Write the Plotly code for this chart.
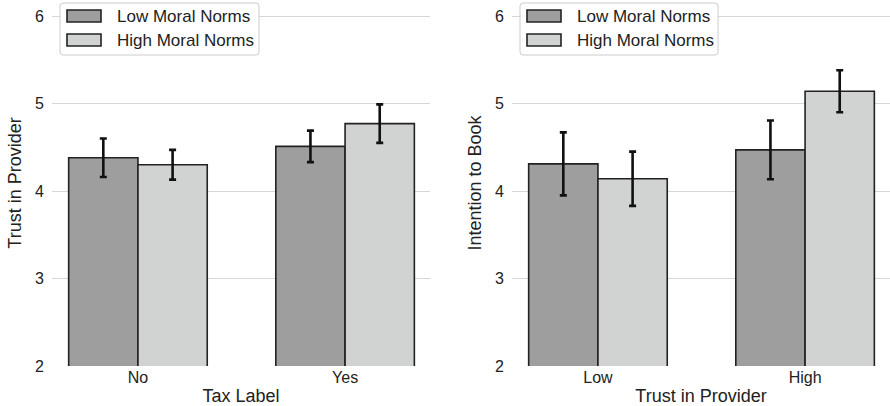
import plotly.graph_objects as go

# ---- data ----
groups = ["Low Moral Norms", "High Moral Norms"]

left_categories = ["No", "Yes"]
left_low = [4.38, 4.51]
left_low_err = [0.22, 0.18]
left_high = [4.30, 4.77]
left_high_err = [0.17, 0.22]

right_categories = ["Low", "High"]
right_low = [4.31, 4.47]
right_low_err = [0.36, 0.335]
right_high = [4.14, 5.14]
right_high_err = [0.31, 0.24]

y_ticks = [2, 3, 4, 5, 6]

# ---- style ----
FONT = "Liberation Sans"
colors = ["#9d9e9d", "#d1d3d2"]
edge = "#222222"
W, H = 890, 406
ML, MR, MT, MB = 52, 0, 0, 40
PW = W - ML - MR
PH = H - MT - MB

fig = go.Figure()

def add_panel(cats, vals_list, errs_list, xaxis, yaxis):
    for name, vals, errs, col in zip(groups, vals_list, errs_list, colors):
        fig.add_trace(go.Bar(
            x=cats, y=vals, name=name, showlegend=False,
            marker=dict(color=col, line=dict(color=edge, width=1.6)),
            error_y=dict(type="data", array=errs, visible=True,
                         color="#111111", thickness=2.6, width=3.5),
            xaxis=xaxis, yaxis=yaxis,
        ))

add_panel(left_categories, [left_low, left_high], [left_low_err, left_high_err], "x", "y")
add_panel(right_categories, [right_low, right_high], [right_low_err, right_high_err], "x2", "y2")

def px_x(p):
    return (p - ML) / PW

def px_y(p):
    return 1 - (p - MT) / PH

xcommon = dict(
    type="category", range=[-0.415, 1.41], showgrid=False, showline=False,
    zeroline=False, ticks="", tickfont=dict(size=16, color="#222222"),
)
xtitle_font = dict(size=18, color="#222222")
ycommon = dict(
    range=[2, 2 + PH / 87.5], tickvals=y_ticks, showgrid=True,
    gridcolor="#d6d6d6", gridwidth=1.2, showline=False, zeroline=False,
    ticks="outside", ticklen=4, tickcolor="rgba(0,0,0,0)",
    tickfont=dict(size=16, color="#222222"),
)

# ---- legends drawn as shapes + text (wide swatches like the reference) ----
shapes = []
annotations = []

def add_legend(box_left, box_right, sw_left, sw_right, text_left):
    top, bottom = 3, 55
    r = 3
    fx = px_x
    fy = px_y
    path = (f"M {fx(box_left + r)},{fy(top)} L {fx(box_right - r)},{fy(top)} "
            f"Q {fx(box_right)},{fy(top)} {fx(box_right)},{fy(top + r)} "
            f"L {fx(box_right)},{fy(bottom - r)} "
            f"Q {fx(box_right)},{fy(bottom)} {fx(box_right - r)},{fy(bottom)} "
            f"L {fx(box_left + r)},{fy(bottom)} "
            f"Q {fx(box_left)},{fy(bottom)} {fx(box_left)},{fy(bottom - r)} "
            f"L {fx(box_left)},{fy(top + r)} "
            f"Q {fx(box_left)},{fy(top)} {fx(box_left + r)},{fy(top)} Z")
    shapes.append(dict(type="path", xref="paper", yref="paper", path=path,
                       fillcolor="white", line=dict(color="#cccccc", width=1),
                       layer="above"))
    for i, (name, col) in enumerate(zip(groups, colors)):
        cy = 16 + 24 * i
        shapes.append(dict(type="rect", xref="paper", yref="paper",
                           x0=px_x(sw_left), x1=px_x(sw_right),
                           y0=px_y(cy - 6), y1=px_y(cy + 6),
                           fillcolor=col, line=dict(color=edge, width=1.6),
                           layer="above"))
        annotations.append(dict(xref="paper", yref="paper", x=px_x(text_left),
                                y=px_y(cy), xanchor="left", yanchor="middle",
                                text=name, showarrow=False,
                                font=dict(family=FONT, size=17, color="#222222")))

add_legend(60, 259, 67, 101, 115)
add_legend(520, 718, 527, 561, 575)

fig.update_layout(
    width=W, height=H,
    margin=dict(l=ML, r=MR, t=MT, b=MB),
    paper_bgcolor="white", plot_bgcolor="white",
    font=dict(family=FONT, color="#222222"),
    barmode="group", bargap=0.331, bargroupgap=0,
    showlegend=False,
    xaxis=dict(domain=[0, px_x(430)], anchor="y",
               title=dict(text="Tax Label", font=xtitle_font, standoff=5), **xcommon),
    yaxis=dict(domain=[0, 1], anchor="x",
               title=dict(text="Trust in Provider", font=xtitle_font, standoff=8), **ycommon),
    xaxis2=dict(domain=[px_x(512), 1], anchor="y2",
                title=dict(text="Trust in Provider", font=xtitle_font, standoff=5), **xcommon),
    yaxis2=dict(domain=[0, 1], anchor="x2",
                title=dict(text="Intention to Book", font=xtitle_font, standoff=8), **ycommon),
    shapes=shapes,
    annotations=annotations,
)

fig.write_html("out.html", config={"displayModeBar": False},
               post_script="document.body.style.margin='0px';")
